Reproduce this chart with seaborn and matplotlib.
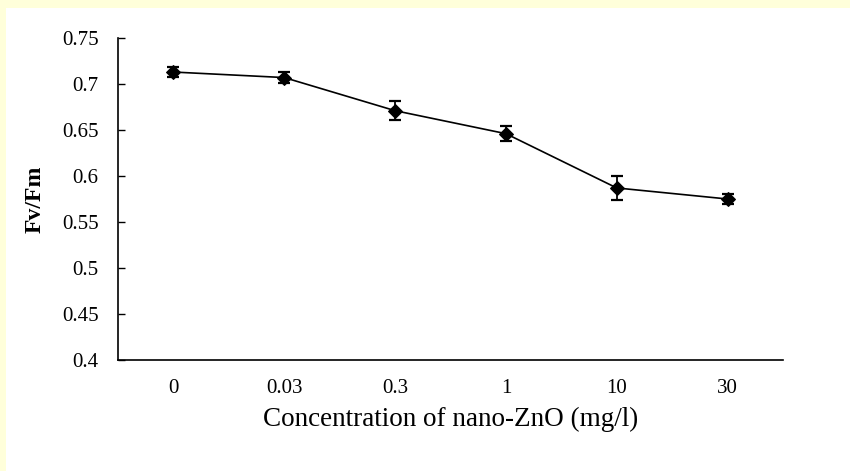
import matplotlib
matplotlib.use("Agg")
import matplotlib.pyplot as plt
import matplotlib.patches as mpatches
import seaborn as sns
import pandas as pd

concentrations = ["0", "0.03", "0.3", "1", "10", "30"]
fv_fm = [0.713, 0.707, 0.671, 0.646, 0.587, 0.575]
fv_fm_err = [0.005, 0.006, 0.010, 0.008, 0.013, 0.005]
y_ticks = [0.4, 0.45, 0.5, 0.55, 0.6, 0.65, 0.7, 0.75]
y_tick_labels = ["0.4", "0.45", "0.5", "0.55", "0.6", "0.65", "0.7", "0.75"]

sns.set_style("white")
plt.rcParams["font.family"] = ["Liberation Serif", "DejaVu Serif"]

df = pd.DataFrame({"conc": concentrations, "fvfm": fv_fm})

fig = plt.figure(figsize=(8.5, 4.71), dpi=100)
fig.patch.set_facecolor("white")
yellow = "#FFFFDA"
fig.patches.append(mpatches.Rectangle((0, 1 - 8 / 471), 1, 8 / 471, transform=fig.transFigure,
                                      facecolor=yellow, edgecolor="none", zorder=-10))
fig.patches.append(mpatches.Rectangle((0, 0), 6 / 850, 1, transform=fig.transFigure,
                                      facecolor=yellow, edgecolor="none", zorder=-10))

ax = fig.add_axes([118 / 850, 1 - 360 / 471, (783 - 118) / 850, (360 - 38) / 471])

sns.lineplot(data=df, x="conc", y="fvfm", ax=ax, color="black", linewidth=1.2,
             marker="D", markersize=7.5, markeredgecolor="black", sort=False)
ax.errorbar(concentrations, fv_fm, yerr=fv_fm_err, fmt="none", ecolor="black",
            elinewidth=1.3, capsize=4.5, capthick=1.6)

ax.set_xlim(-0.5, 5.5)
ax.set_ylim(0.4, 0.75)
ax.set_yticks(y_ticks)
ax.set_yticklabels(y_tick_labels)
ax.set_xticks(range(len(concentrations)))
ax.set_xticklabels(concentrations)
ax.set_xticks([i - 0.5 for i in range(len(concentrations) + 1)], minor=True)

for s in ["top", "right"]:
    ax.spines[s].set_visible(False)
for s in ["left", "bottom"]:
    ax.spines[s].set_color("black")
    ax.spines[s].set_linewidth(1.2)

ax.tick_params(axis="x", which="major", length=0, pad=14, labelsize=15, colors="black")
ax.tick_params(axis="x", which="minor", length=6, direction="in", width=1.0, color="black")
ax.tick_params(axis="y", which="major", length=5, direction="in", width=1.0, pad=14,
               labelsize=15, colors="black", left=True)

ax.set_xlabel("Concentration of nano-ZnO (mg/l)", fontsize=19.5, labelpad=6, color="black")
ax.set_ylabel("Fv/Fm", fontsize=17, fontweight="bold", color="black")
ax.yaxis.set_label_coords((46 - 118) / 665, 0.5)

fig.savefig("out.png", dpi=100, facecolor=fig.get_facecolor())
